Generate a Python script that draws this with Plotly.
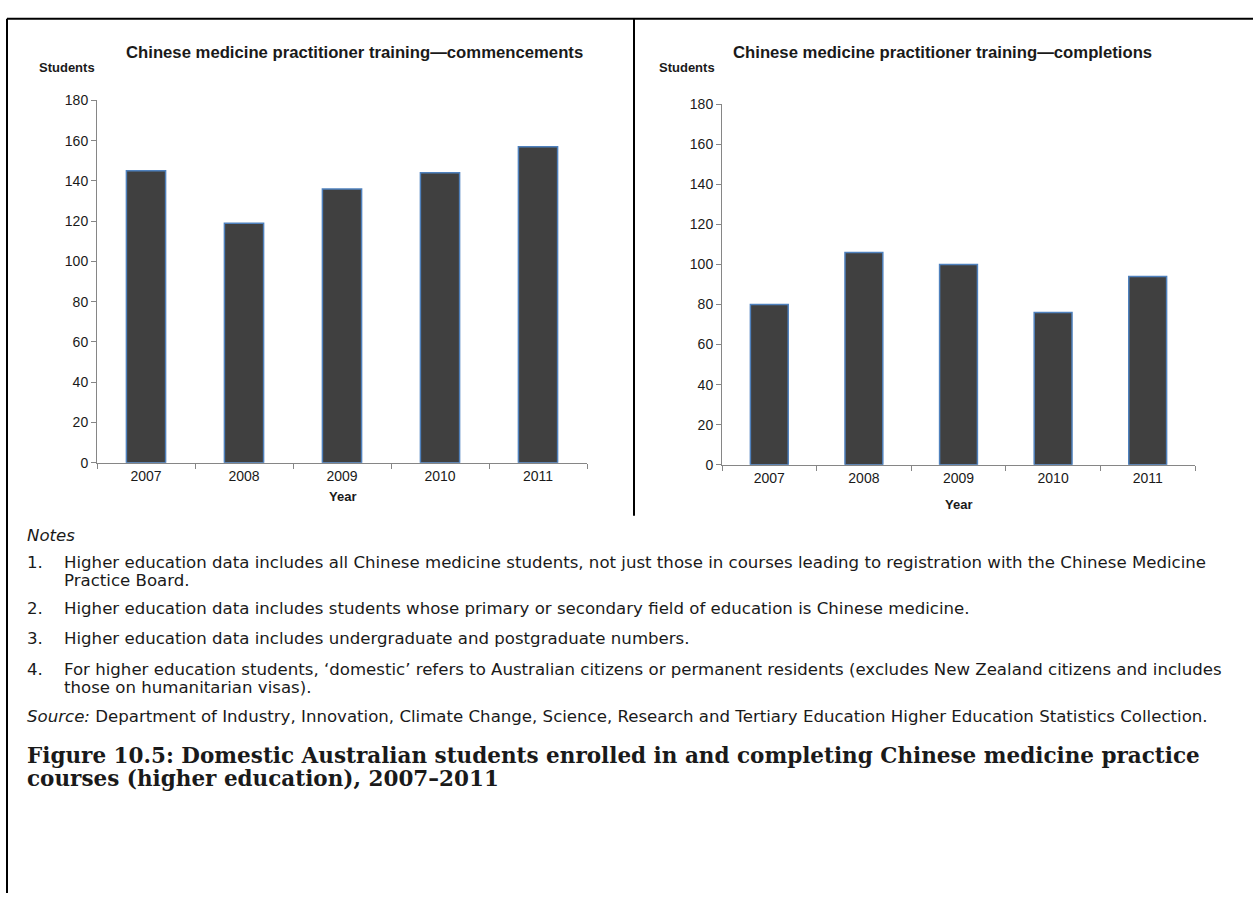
import plotly.graph_objects as go

years = ["2007", "2008", "2009", "2010", "2011"]
commencements = [145, 119, 136, 144, 157]
completions = [80, 106, 100, 76, 94]
y_ticks = [0, 20, 40, 60, 80, 100, 120, 140, 160, 180]

title_left = "Chinese medicine practitioner training\u2014commencements"
title_right = "Chinese medicine practitioner training\u2014completions"
notes = [
    ("1.", ["Higher education data includes all Chinese medicine students, not just those in courses leading to registration with the Chinese Medicine",
            "Practice Board."]),
    ("2.", ["Higher education data includes students whose primary or secondary field of education is Chinese medicine."]),
    ("3.", ["Higher education data includes undergraduate and postgraduate numbers."]),
    ("4.", ["For higher education students, \u2018domestic\u2019 refers to Australian citizens or permanent residents (excludes New Zealand citizens and includes",
            "those on humanitarian visas)."]),
]
source_text = "<i>Source:</i> Department of Industry, Innovation, Climate Change, Science, Research and Tertiary Education Higher Education Statistics Collection."
fig_title = ["Figure 10.5: Domestic Australian students enrolled in and completing Chinese medicine practice",
             "courses (higher education), 2007\u20132011"]

W, H = 1253, 901
SANS = "Liberation Sans, Arial, sans-serif"
NOTE_FONT = "DejaVu Sans, sans-serif"
SERIF = "DejaVu Serif, serif"
BAR_FILL = "#404040"
BAR_LINE = "#4F81BD"
AXIS = "#868686"


def px(x):
    return x / W


def py(y):
    return 1 - y / H


fig = go.Figure()
fig.add_trace(go.Bar(x=years, y=commencements, width=0.4, marker=dict(color=BAR_FILL, line=dict(color=BAR_LINE, width=1.5)),
                     xaxis="x", yaxis="y", showlegend=False, hoverinfo="skip"))
fig.add_trace(go.Bar(x=years, y=completions, width=0.4, marker=dict(color=BAR_FILL, line=dict(color=BAR_LINE, width=1.5)),
                     xaxis="x2", yaxis="y2", showlegend=False, hoverinfo="skip"))

xcommon = dict(type="category", showline=True, linecolor=AXIS, linewidth=1, ticks="outside", tickson="boundaries",
               ticklen=5, tickcolor=AXIS, showgrid=False, zeroline=False, tickfont=dict(family=SANS, size=14, color="#1a1a1a"),
               fixedrange=True)
ycommon = dict(range=[0, 180], tickvals=y_ticks, showline=True, linecolor=AXIS, linewidth=1, ticks="outside", ticklen=5,
               tickcolor=AXIS, showgrid=False, zeroline=False, tickfont=dict(family=SANS, size=14, color="#1a1a1a"), fixedrange=True)

fig.update_layout(
    width=W, height=H, margin=dict(l=0, r=0, t=0, b=0), paper_bgcolor="white", plot_bgcolor="white",
    bargap=0.6,
    xaxis=dict(domain=[px(97), px(587)], anchor="y", **xcommon),
    yaxis=dict(domain=[py(463), py(94)], anchor="x", **ycommon),
    xaxis2=dict(domain=[px(722), px(1195)], anchor="y2", **xcommon),
    yaxis2=dict(domain=[py(465), py(98)], anchor="x2", **ycommon),
)

ann = []


def text(x, y, s, size=16, bold=False, italic=False, family=SANS, xanchor="left", color="#1a1a1a"):
    if bold:
        s = "<b>" + s + "</b>"
    if italic:
        s = "<i>" + s + "</i>"
    ann.append(dict(x=px(x), y=py(y), xref="paper", yref="paper", text=s, showarrow=False, xanchor=xanchor,
                    yanchor="middle", font=dict(family=family, size=size, color=color)))


# chart titles and axis labels
text(354, 45, title_left, size=16.7, bold=True, xanchor="center")
text(37, 61, "Students", size=13, bold=True)
text(342, 497, "Year", size=13, bold=True, xanchor="center")
text(942, 45, title_right, size=16.7, bold=True, xanchor="center")
text(657, 61, "Students", size=13, bold=True)
text(958, 505, "Year", size=13, bold=True, xanchor="center")

# notes
NS = 16.6
text(25, 537, "Notes", size=NS, italic=True, family=NOTE_FONT)
note_y = [[565, 583], [611], [642], [673, 692]]
for (num, lines), ys in zip(notes, note_y):
    text(25, ys[0], num, size=NS, family=NOTE_FONT)
    for line, yy in zip(lines, ys):
        text(62, yy, line, size=NS, family=NOTE_FONT)
text(25, 721, source_text, size=NS, family=NOTE_FONT)
text(25, 761, fig_title[0], size=21.5, bold=True, family=SERIF)
text(25, 784, fig_title[1], size=21.5, bold=True, family=SERIF)

fig.update_layout(annotations=ann)

shapes = [
    dict(type="line", xref="paper", yref="paper", x0=px(7), x1=1, y0=py(11), y1=py(11), line=dict(color="black", width=2)),
    dict(type="line", xref="paper", yref="paper", x0=px(7), x1=px(7), y0=py(11), y1=0, line=dict(color="black", width=2)),
    dict(type="line", xref="paper", yref="paper", x0=px(634), x1=px(634), y0=py(11), y1=py(517), line=dict(color="black", width=2)),
]
fig.update_layout(shapes=shapes)

fig.write_html("out.html", config={"displayModeBar": False},
               post_script="document.body.style.margin='0';document.body.style.overflow='hidden';")
